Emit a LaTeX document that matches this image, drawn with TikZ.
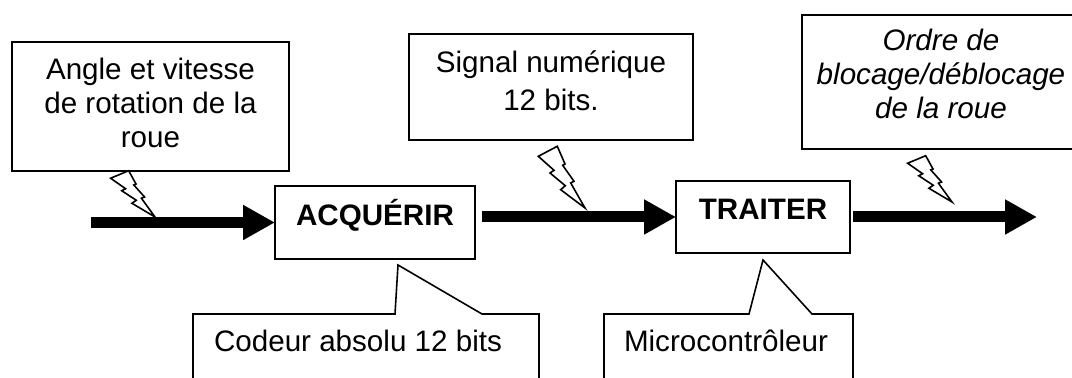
\documentclass[tikz,border=0pt]{standalone}
\usepackage{fontspec}
\setmainfont{Liberation Sans}
\usetikzlibrary{arrows.meta}
\tikzset{
    every node/.style={font=\fontsize{14.8}{17}\selectfont},
    thinline/.style={line width=.8pt},
    notebox/.style={draw, thinline, fill=white, align=center, inner sep=0pt, outer sep=0pt},
    funcbox/.style={notebox, font=\fontsize{14.8}{17}\selectfont\bfseries, text height=10pt, text depth=7pt},
    flow/.style={line width=5.5pt, -{Triangle[length=16pt,width=16.5pt]}},
    bolt/.pic={
        \draw[thinline, fill=white] (-46.7,-51.7) -- (-27.7,-61.7) -- (-20,-44) -- (-22.3,-42.7) -- (-11,-26.7) -- (-14.3,-25) -- (0,0) -- (-24.3,-18.3) -- (-19.7,-22.3) -- (-35,-35) -- (-31,-37.7) -- cycle;
    }
}
\begin{document}
\begin{tikzpicture}[x=.5pt,y=-.5pt]
                \useasboundingbox (0,0) rectangle (1072,378);
                \node[notebox, minimum width=138.5pt, minimum height=64.5pt, text depth=4pt] (angle) at (150.5,106.5) {Angle et vitesse\\de rotation de la\\roue};
                \node[notebox, minimum width=142pt, minimum height=53pt, text depth=6pt, font=\fontsize{14.8}{19}\selectfont] (signal) at (551,87) {Signal numérique\\12 bits.};
                \node[notebox, minimum width=139pt, minimum height=67pt, text depth=8.5pt, font=\fontsize{14.8}{17}\selectfont\itshape] (ordre) at (941,82) {Ordre de\\blocage/déblocage\\de la roue};
                \node[funcbox, minimum width=100pt, minimum height=36.5pt] (acq) at (375,222.5) {ACQUÉRIR};
                \node[funcbox, minimum width=87pt, minimum height=36pt] (trait) at (763,217) {TRAITER};
                \coordinate (in) at (91,222.5);
                \coordinate (mid) at (acq.east |- trait.west);
                \coordinate (out) at (1037,217);
                \draw[flow] (in) -- (acq.west);
                \draw[flow] ([xshift=3.5pt]mid) -- (trait.west);
                \draw[flow] ([xshift=1.5pt]trait.east) -- (out);
                \foreach \bx/\by/\sx/\sy in {155/217/.95/.75, 585/208/1/1, 952/202/.95/.75}
                {
                    \pic[xscale=\sx,yscale=\sy] at (\bx,\by) {bolt};
                }
                \draw[thinline] (193,400) -- (193,314) -- (395,314) -- (398,265) -- (482,314) -- (539,314) -- (539,400);
                \draw[thinline] (604,400) -- (604,314) -- (749,314) -- (763,260) -- (812,314) -- (853,314) -- (853,400);
                \node[anchor=base] (codeur) at (358,352) {Codeur absolu 12 bits};
                \node[anchor=base] (micro) at (726,352) {Microcontrôleur};
            \end{tikzpicture}
\end{document}
